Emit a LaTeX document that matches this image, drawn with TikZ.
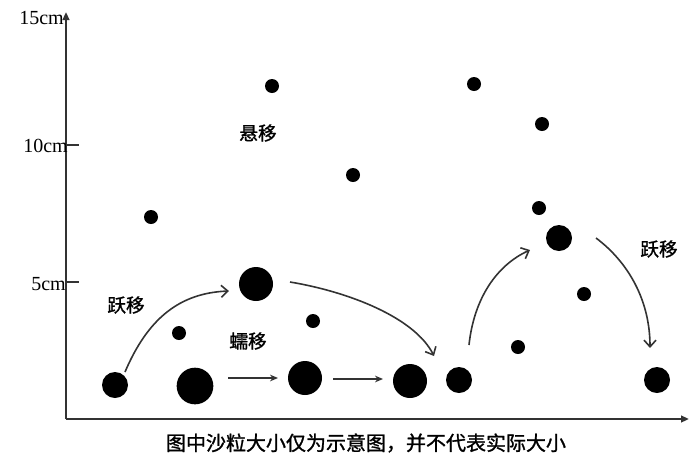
\documentclass[tikz,border=0pt]{standalone}
\usepackage{fontspec}
\setmainfont{Liberation Serif}
\newfontfamily\cjk[FakeBold=1.2]{Noto Sans CJK SC}
\usetikzlibrary{arrows.meta}
\begin{document}
\begin{tikzpicture}[x=0.75pt,y=-0.75pt,
  dot/.style={circle,fill=black,inner sep=0pt},
  sm/.style={dot,minimum size=10.5pt},
  md/.style={dot,minimum size=19.5pt},
  lg/.style={dot,minimum size=25.5pt},
  xl/.style={dot,minimum size=27.5pt},
  axis/.style={draw=black!80,line width=2.2pt},
  jump/.style={draw=black!80,line width=1.2pt,-{Straight Barb[length=5pt,width=9pt]}},
  creep/.style={draw=black!80,line width=1.2pt,-{Stealth[length=6pt,width=5pt]}},
  ticklbl/.style={font=\fontsize{15}{15}\selectfont,inner sep=0pt},
  zh/.style={font=\cjk\fontsize{14}{14}\selectfont,inner sep=0pt}]
\useasboundingbox (0,0) rectangle (689,465);
% axes
\coordinate (O) at (66,419);
\coordinate (Ytop) at (66,12);
\coordinate (Xend) at (689,419);
\draw[axis,-{Triangle[length=6pt,width=5pt]}] (O) -- (Ytop);
\draw[axis,-{Triangle[length=6pt,width=5pt]}] (O) -- (Xend);
\coordinate (t10a) at (66,145); \coordinate (t10b) at (79,145);
\coordinate (t5a) at (66,282); \coordinate (t5b) at (79,282);
\draw[axis,line width=1.5pt] (t10a) -- (t10b);
\draw[axis,line width=1.5pt] (t5a) -- (t5b);
\node[ticklbl,anchor=east] (l15) at (64,18) {15cm};
\node[ticklbl,anchor=east] (l10) at (68,146) {10cm};
\node[ticklbl,anchor=east] (l5) at (66,284) {5cm};
% particles
\node[sm] (s1) at (151,217) {};
\node[sm] (s2) at (272,86) {};
\node[sm] (s3) at (353,175) {};
\node[sm] (s4) at (474,84) {};
\node[sm] (s5) at (542,124) {};
\node[sm] (s6) at (539,208) {};
\node[sm] (s7) at (584,294) {};
\node[sm] (s8) at (518,347) {};
\node[sm] (s9) at (179,333) {};
\node[sm] (s10) at (313,321) {};
\node[md] (m1) at (559,238) {};
\node[md] (m2) at (459,380) {};
\node[md] (m3) at (657,380) {};
\node[md] (m4) at (115,385) {};
\node[lg] (m5) at (256,284) {};
\node[xl] (b1) at (195,386) {};
\node[lg] (b2) at (305,378) {};
\node[lg] (b3) at (410,381) {};
% labels
\node[zh] (xuan) at (258,133) {悬移};
\node[zh] (yue1) at (126,305) {跃移};
\node[zh] (ru) at (248,341) {蠕移};
\node[zh] (yue2) at (659,249) {跃移};
\node[zh,font=\cjk\fontsize{15}{15}\selectfont] (cap) at (366,443) {图中沙粒大小仅为示意图，并不代表实际大小};
% arrows
\coordinate (a1s) at (125,372); \coordinate (a1e) at (229,291);
\draw[jump] (a1s) .. controls (148,318) and (180,293) .. (a1e);
\coordinate (a2s) at (290,282); \coordinate (a2e) at (434,356);
\draw[jump] (a2s) .. controls (350,292) and (415,318) .. (a2e);
\coordinate (a3s) at (469,345); \coordinate (a3e) at (530,250);
\draw[jump] (a3s) .. controls (474,298) and (497,265) .. (a3e);
\coordinate (a4s) at (596,238); \coordinate (a4e) at (650,348);
\draw[jump] (a4s) .. controls (628,262) and (650,300) .. (a4e);
\coordinate (h1s) at (228,378); \coordinate (h1e) at (278,378);
\coordinate (h2s) at (333,379); \coordinate (h2e) at (383,379);
\draw[creep] (h1s) -- (h1e);
\draw[creep] (h2s) -- (h2e);
\end{tikzpicture}
\end{document}
